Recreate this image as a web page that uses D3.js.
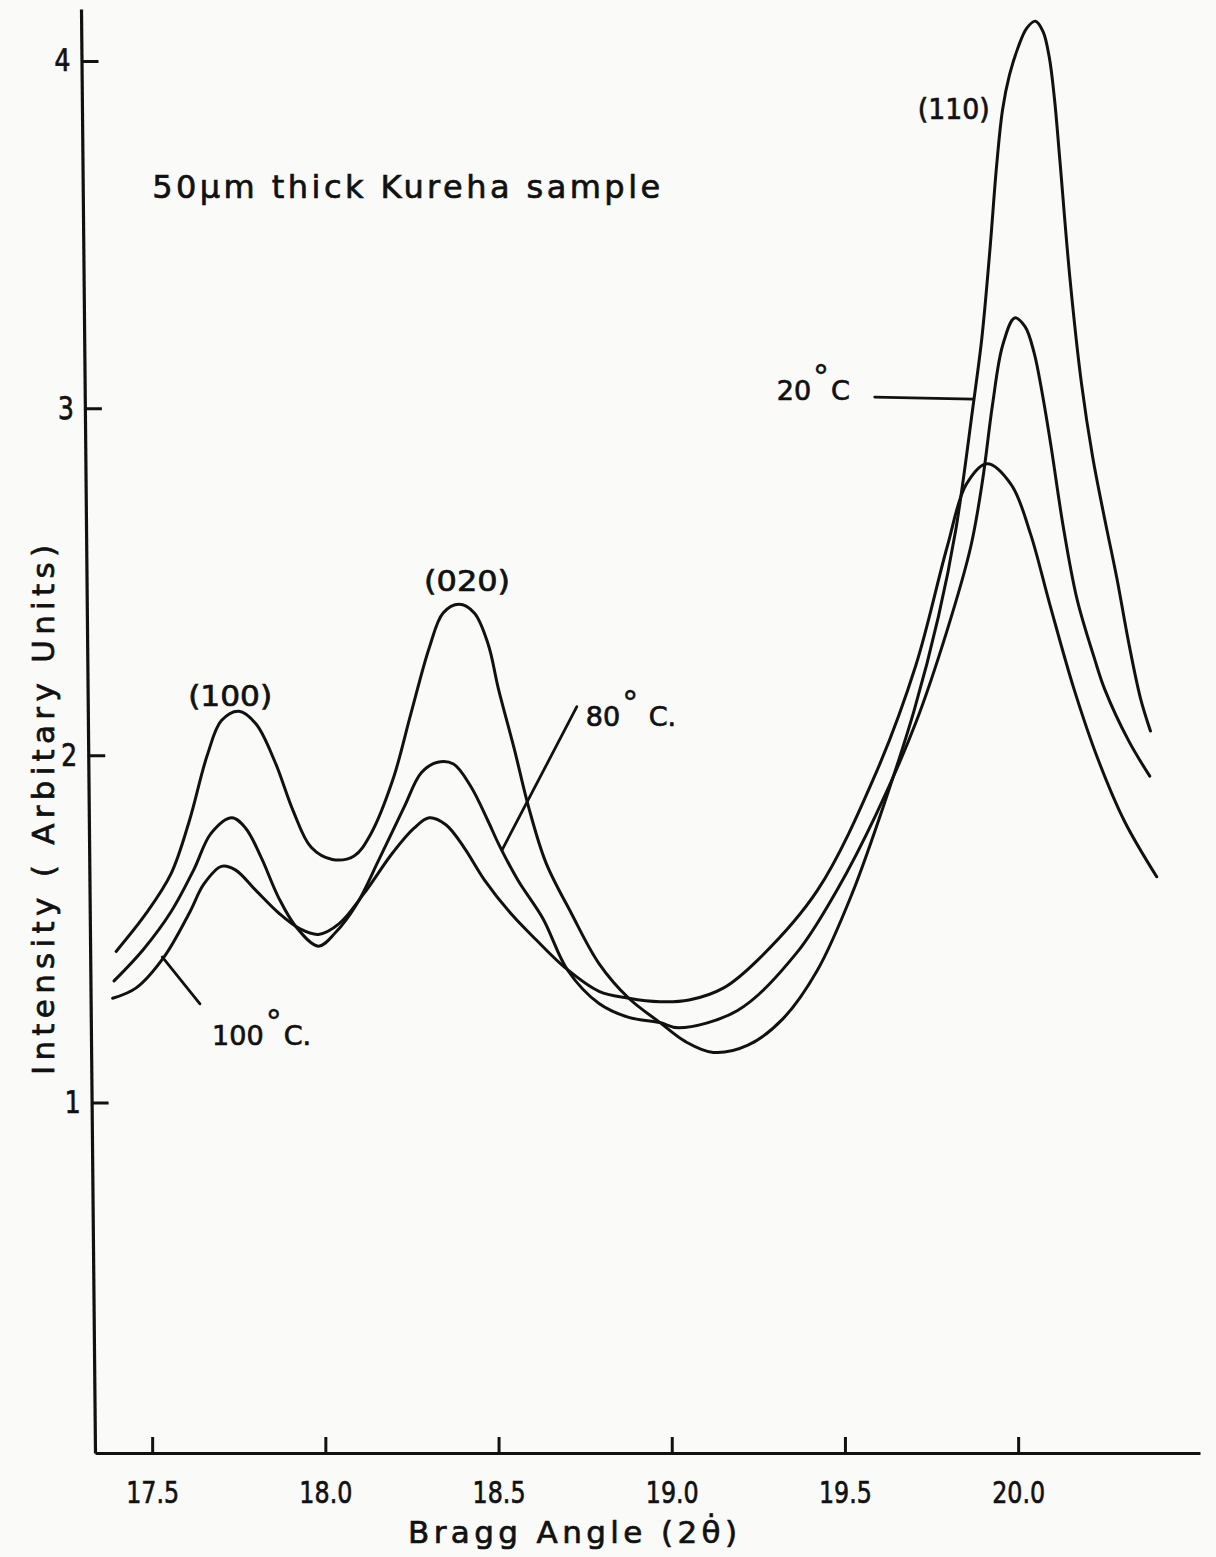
<!DOCTYPE html>
<html>
<head>
<meta charset="utf-8">
<script src="https://cdn.jsdelivr.net/npm/d3@7"></script>
<style>
  html, body { margin: 0; padding: 0; background: #fafaf8; }
  svg { display: block; }
  text { font-family: "DejaVu Sans", sans-serif; fill: #111; stroke: #111; stroke-width: 0.7px; }
</style>
</head>
<body>
<script>
// X-ray diffraction scans of a 50 µm Kureha film at three temperatures.
// Each series: [Bragg angle 2θ (deg), intensity (arbitrary units)]
const scan20C = [
  [17.396, 1.435], [17.483, 1.545], [17.555, 1.66], [17.607, 1.81], [17.659, 2.00],
  [17.70, 2.10], [17.751, 2.127], [17.80, 2.09], [17.855, 1.98], [17.907, 1.84],
  [17.959, 1.735], [18.02, 1.70], [18.083, 1.71], [18.132, 1.775], [18.195, 1.93],
  [18.247, 2.12], [18.30, 2.31], [18.34, 2.41], [18.386, 2.435], [18.43, 2.41],
  [18.47, 2.32], [18.50, 2.19], [18.545, 2.02], [18.587, 1.85], [18.637, 1.69],
  [18.71, 1.545], [18.79, 1.40], [18.876, 1.30], [18.966, 1.23], [19.04, 1.175],
  [19.12, 1.144], [19.22, 1.165], [19.32, 1.24], [19.42, 1.38], [19.52, 1.60],
  [19.62, 1.88], [19.70, 2.13], [19.77, 2.40], [19.82, 2.65], [19.869, 3.00],
  [19.895, 3.20], [19.918, 3.45], [19.938, 3.70], [19.955, 3.86], [19.975, 3.96],
  [20.00, 4.04], [20.025, 4.095], [20.05, 4.115], [20.072, 4.085], [20.09, 4.01],
  [20.105, 3.89], [20.12, 3.72], [20.149, 3.38], [20.183, 3.07], [20.215, 2.86],
  [20.25, 2.68], [20.285, 2.51], [20.32, 2.32], [20.353, 2.165], [20.382, 2.07]
];
const scan80C = [
  [17.39, 1.35], [17.474, 1.44], [17.555, 1.55], [17.62, 1.67], [17.67, 1.775],
  [17.73, 1.82], [17.77, 1.79], [17.815, 1.705], [17.865, 1.59], [17.916, 1.505],
  [17.98, 1.45], [18.03, 1.49], [18.09, 1.57], [18.155, 1.70], [18.227, 1.85],
  [18.277, 1.95], [18.324, 1.98], [18.37, 1.975], [18.42, 1.91], [18.47, 1.81],
  [18.50, 1.745], [18.556, 1.64], [18.628, 1.53], [18.70, 1.38], [18.79, 1.285],
  [18.876, 1.245], [18.966, 1.23], [19.02, 1.215], [19.19, 1.265], [19.36, 1.43],
  [19.476, 1.61], [19.59, 1.83], [19.705, 2.095], [19.795, 2.36], [19.863, 2.60],
  [19.897, 2.79], [19.926, 3.01], [19.955, 3.18], [19.99, 3.26], [20.02, 3.235],
  [20.046, 3.16], [20.07, 3.04], [20.095, 2.89], [20.13, 2.66], [20.17, 2.45],
  [20.22, 2.28], [20.25, 2.19], [20.32, 2.04], [20.38, 1.94]
];
const scan100C = [
  [17.386, 1.30], [17.454, 1.33], [17.535, 1.42], [17.607, 1.545], [17.65, 1.63],
  [17.70, 1.68], [17.74, 1.67], [17.80, 1.61], [17.866, 1.545], [17.927, 1.50],
  [17.98, 1.484], [18.04, 1.515], [18.11, 1.60], [18.195, 1.72], [18.256, 1.79],
  [18.30, 1.82], [18.348, 1.80], [18.40, 1.735], [18.46, 1.64], [18.535, 1.545],
  [18.607, 1.47], [18.69, 1.39], [18.79, 1.32], [18.876, 1.30], [18.966, 1.29],
  [19.05, 1.295], [19.15, 1.33], [19.248, 1.41], [19.42, 1.61], [19.59, 1.95],
  [19.705, 2.26], [19.795, 2.60], [19.85, 2.78], [19.91, 2.84], [19.98, 2.78],
  [20.035, 2.64], [20.09, 2.44], [20.16, 2.195], [20.23, 1.99], [20.307, 1.81],
  [20.40, 1.65]
];

const xTicks = [17.5, 18.0, 18.5, 19.0, 19.5, 20.0];
const xTickLabels = ["17.5", "18.0", "18.5", "19.0", "19.5", "20.0"];
const yTicks = [1, 2, 3, 4];
const yTickLabels = ["1", "2", "3", "4"];

const titleText = "50μm thick Kureha  sample";
const xTitle = "Bragg  Angle  (2θ\u0307)";
const yTitle = "Intensity ( Arbitary Units)";

// Reflection labels, in data coordinates
const peakLabels = [
  { text: "(100)", x: 17.604, y: 2.142, len: 84 },
  { text: "(020)", x: 18.285, y: 2.474, len: 86 },
  { text: "(110)", x: 19.710, y: 3.833, len: 72 }
];
// Temperature call-outs: digits, degree mark, unit
const tempLabels = [
  { pre: "20",  post: "C",   x: 19.303, y: 3.024 },
  { pre: "80",  post: " C.", x: 18.752, y: 2.084 },
  { pre: "100", post: "C.",  x: 17.673, y: 1.165 }
];
const leaders = [
  [[19.586, 3.032], [19.870, 3.026]],
  [[18.726, 2.140], [18.510, 1.727]],
  [[17.529, 1.419], [17.638, 1.284]]
];

const W = 1216, H = 1557;
const svg = d3.select("body").append("svg").attr("width", W).attr("height", H);

const x = d3.scaleLinear().domain([17.335, 20.525]).range([95, 1200]);
const y = d3.scaleLinear().domain([-0.01, 4.15]).range([1453, 9]);

const ink = "#111";

// x axis with inward ticks
const gx = svg.append("g").attr("transform", `translate(0,${y(-0.01)})`)
  .call(d3.axisBottom(x).tickValues(xTicks)
    .tickFormat((d, i) => xTickLabels[i])
    .tickSizeInner(-16).tickSizeOuter(0).tickPadding(28));
gx.select(".domain").attr("stroke", ink).attr("stroke-width", 3);
gx.selectAll(".tick line").attr("stroke", ink).attr("stroke-width", 3);
gx.selectAll(".tick text").attr("font-size", 31).attr("fill", ink)
  .attr("textLength", 53).attr("lengthAdjust", "spacingAndGlyphs");

// y axis, the hand-drawn line leans slightly to the left towards the top
const lean = Math.atan(14 / 1443) * 180 / Math.PI;
const gy = svg.append("g")
  .attr("transform", `translate(${x(17.335)},${y(-0.01)}) skewX(${lean}) translate(0,${-y(-0.01)})`)
  .call(d3.axisLeft(y).tickValues(yTicks)
    .tickFormat((d, i) => yTickLabels[i])
    .tickSizeInner(-17).tickSizeOuter(0).tickPadding(11));
gy.select(".domain").attr("stroke", ink).attr("stroke-width", 3.2);
gy.selectAll(".tick line").attr("stroke", ink).attr("stroke-width", 3);
gy.selectAll(".tick text").attr("font-size", 31).attr("fill", ink)
  .attr("textLength", 16).attr("lengthAdjust", "spacingAndGlyphs");

// diffraction curves
const line = d3.line().x(d => x(d[0])).y(d => y(d[1])).curve(d3.curveCatmullRom.alpha(0.5));
[scan20C, scan80C, scan100C].forEach(s => {
  svg.append("path").datum(s).attr("d", line)
    .attr("fill", "none").attr("stroke", ink).attr("stroke-width", 3)
    .attr("stroke-linejoin", "round").attr("stroke-linecap", "round");
});

// leader lines
leaders.forEach(l => {
  svg.append("line")
    .attr("x1", x(l[0][0])).attr("y1", y(l[0][1]))
    .attr("x2", x(l[1][0])).attr("y2", y(l[1][1]))
    .attr("stroke", ink).attr("stroke-width", 2.8).attr("stroke-linecap", "round");
});

// labels
peakLabels.forEach(d => {
  svg.append("text").attr("x", x(d.x)).attr("y", y(d.y))
    .attr("font-size", 28).attr("textLength", d.len).attr("lengthAdjust", "spacingAndGlyphs")
    .text(d.text);
});
tempLabels.forEach(d => {
  const t = svg.append("text").attr("x", x(d.x)).attr("y", y(d.y))
    .attr("font-size", 27);
  t.append("tspan").text(d.pre);
  t.append("tspan").attr("font-size", 32).attr("dx", 2).attr("dy", -12)
    .attr("stroke-width", 0.4).text("°");
  t.append("tspan").attr("dx", 2).attr("dy", 12).text(d.post);
});

svg.append("text").attr("x", x(17.5)).attr("y", y(3.606))
  .attr("font-size", 32).attr("textLength", 508).attr("lengthAdjust", "spacing")
  .text(titleText);

// axis titles
svg.append("text").attr("x", 408).attr("y", 1543)
  .attr("font-size", 31).attr("textLength", 329).attr("lengthAdjust", "spacing")
  .text(xTitle);

svg.append("text")
  .attr("transform", `translate(54,1075) rotate(-90)`)
  .attr("font-size", 31).attr("textLength", 530).attr("lengthAdjust", "spacing")
  .text(yTitle);
</script>
</body>
</html>
